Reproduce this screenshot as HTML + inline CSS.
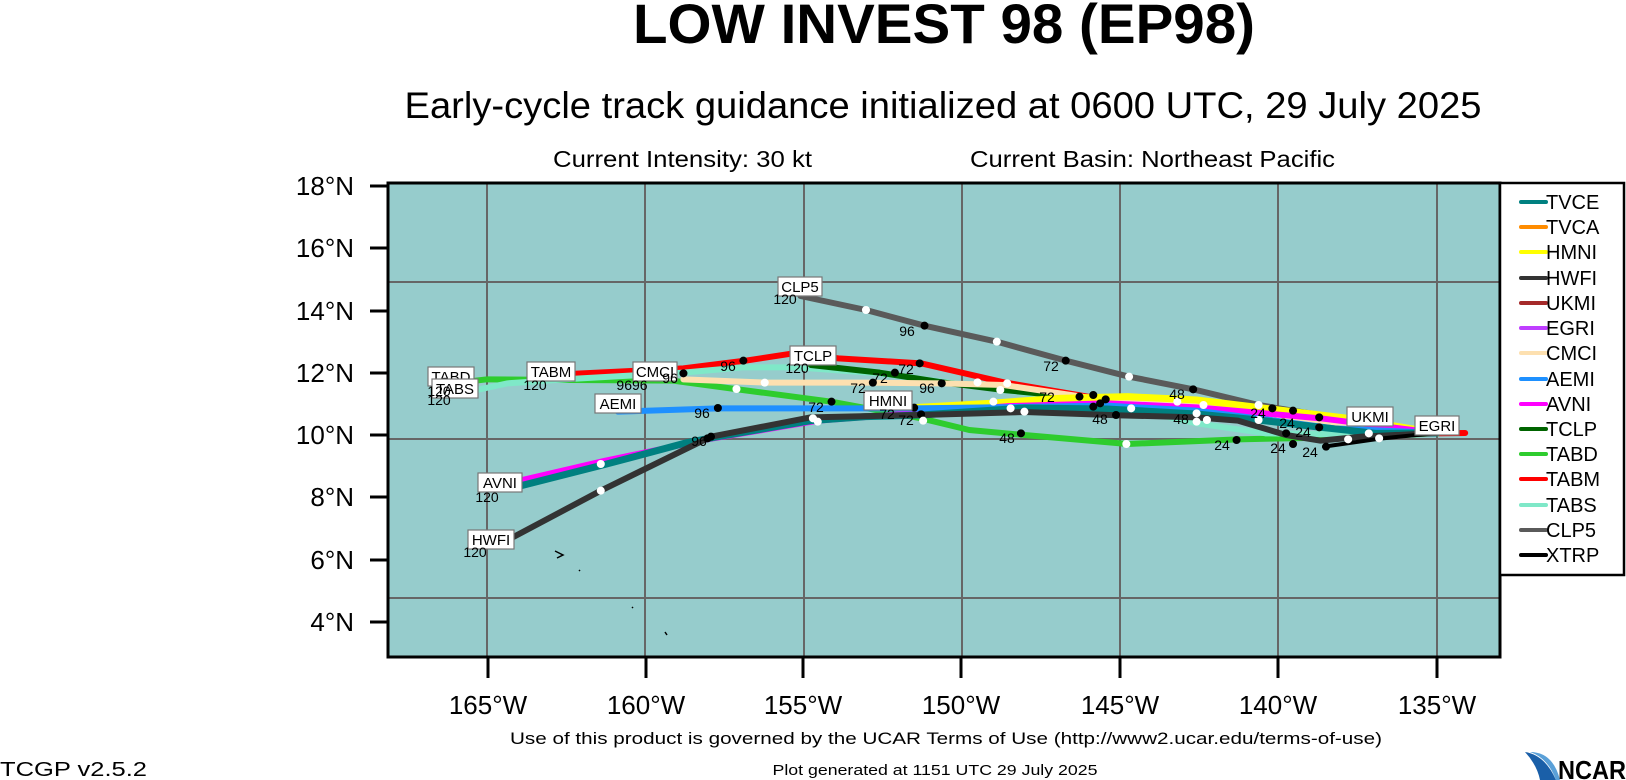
<!DOCTYPE html>
<html><head><meta charset="utf-8"><style>
html,body{margin:0;padding:0;background:#fff;}
svg{display:block;font-family:"Liberation Sans",sans-serif;}
.trk{fill:none;stroke-linejoin:round;stroke-linecap:round;}
.lb rect{fill:#fff;stroke:#777;stroke-width:1.2;}
.lb text{font-size:15px;text-anchor:middle;}
.n{font-size:14px;text-anchor:middle;}
</style></head><body>
<svg width="1626" height="780" viewBox="0 0 1626 780" xmlns="http://www.w3.org/2000/svg">
<defs><clipPath id="cp"><rect x="388" y="183" width="1112" height="474"/></clipPath></defs>
<text x="944" y="43" font-size="56" font-weight="bold" text-anchor="middle" textLength="622" lengthAdjust="spacingAndGlyphs">LOW INVEST 98 (EP98)</text>
<text x="943" y="118" font-size="37" text-anchor="middle" textLength="1077" lengthAdjust="spacingAndGlyphs">Early-cycle track guidance initialized at 0600 UTC, 29 July 2025</text>
<text x="553" y="167" font-size="23" textLength="259" lengthAdjust="spacingAndGlyphs">Current Intensity: 30 kt</text>
<text x="970" y="167" font-size="23" textLength="365" lengthAdjust="spacingAndGlyphs">Current Basin: Northeast Pacific</text>
<rect x="388" y="183" width="1112" height="474" fill="#96cccc"/>
<g stroke="#666" stroke-width="2">
<line x1="487" y1="183" x2="487" y2="657"/><line x1="645" y1="183" x2="645" y2="657"/><line x1="804" y1="183" x2="804" y2="657"/><line x1="962" y1="183" x2="962" y2="657"/><line x1="1120" y1="183" x2="1120" y2="657"/><line x1="1278" y1="183" x2="1278" y2="657"/><line x1="1437" y1="183" x2="1437" y2="657"/>
<line x1="388" y1="282" x2="1500" y2="282"/><line x1="388" y1="439" x2="1500" y2="439"/><line x1="388" y1="598" x2="1500" y2="598"/>
</g>
<g stroke="#000" stroke-width="1.5" fill="none"><path d="M555 551 l8 4 l-6 3"/><path d="M579 570 l1 1"/><path d="M632 607 l1 1"/><path d="M665 632 l2 3"/></g>
<g clip-path="url(#cp)">
<g transform="translate(370 170) scale(0.6888 0.33333)">
<path vector-effect="non-scaling-stroke" class="trk" stroke="#5a5a5a" stroke-width="6" d="M625 378 L720 420 L805 467 L910 515 L1010 572 L1102 620 L1195 658 L1290 705 L1340 722 L1549 789"/>
<path vector-effect="non-scaling-stroke" class="trk" stroke="#2ecc2e" stroke-width="6" d="M1549 789 L1460 800 L1330 805 L1260 808 L1100 822 L950 795 L870 780 L800 745 L670 695 L530 657 L440 632 L290 630 L170 628 L120 640"/>
<path vector-effect="non-scaling-stroke" class="trk" stroke="#ff0000" stroke-width="6" d="M1590 789 L1540 790 L1400 765 L1200 720 L1070 690 L1000 665 L920 637 L800 580 L680 565 L615 550 L545 572 L455 595 L290 612"/>
<path vector-effect="non-scaling-stroke" class="trk" stroke="#7fe8c8" stroke-width="6" d="M1549 789 L1460 795 L1300 790 L1200 760 L1070 700 L920 660 L830 635 L740 610 L620 592 L540 592 L455 608 L290 627 L200 640 L150 662"/>
<path vector-effect="non-scaling-stroke" class="trk" stroke="#006400" stroke-width="6" d="M1549 789 L1400 770 L1200 712 L1050 686 L920 660 L830 637 L740 608 L640 585"/>
<path vector-effect="non-scaling-stroke" class="trk" stroke="#fde0b0" stroke-width="6" d="M1549 789 L1400 760 L1200 700 L1050 685 L920 645 L830 640 L720 638 L575 638 L455 628"/>
<path vector-effect="non-scaling-stroke" class="trk" stroke="#ffff00" stroke-width="7" d="M1549 789 L1420 745 L1300 715 L1200 690 L1100 680 L1000 685 L900 700 L790 713"/>
<path vector-effect="non-scaling-stroke" class="trk" stroke="#ff00ff" stroke-width="6" d="M1549 789 L1380 745 L1200 712 L1070 700 L930 708 L800 728 L650 752 L490 808 L340 873 L200 940"/>
<path vector-effect="non-scaling-stroke" class="trk" stroke="#1e90ff" stroke-width="6" d="M1549 789 L1400 775 L1200 722 L1070 707 L900 712 L790 715 L670 715 L505 715 L360 725"/>
<path vector-effect="non-scaling-stroke" class="trk" stroke="#008080" stroke-width="7" d="M1549 789 L1460 790 L1380 772 L1290 750 L1200 732 L1070 717 L950 714 L800 735 L720 740 L640 752 L500 802 L460 818 L340 884 L210 952"/>
<path vector-effect="non-scaling-stroke" class="trk" stroke="#333" stroke-width="6" d="M1549 789 L1440 800 L1380 812 L1330 795 L1260 752 L1200 742 L1090 736 L950 726 L800 735 L640 742 L495 800 L335 962 L200 1110"/>
<path vector-effect="non-scaling-stroke" class="trk" stroke="#000" stroke-width="4" d="M1549 789 L1470 805 L1385 830"/>
<g stroke="#000" stroke-width="8" stroke-linecap="round">
<path vector-effect="non-scaling-stroke" d="M805 467h.1M1010 572h.1M1195 658h.1M1340 722h.1M542 572h.1M798 580h.1M455 610h.1M762 608h.1M730 638h.1M830 640h.1M670 695h.1M505 714h.1M790 713h.1M800 733h.1M945 790h.1M1083 735h.1M1050 675h.1M1068 688h.1M1030 680h.1M1258 810h.1M1340 822h.1M1388 830h.1M1310 715h.1M1340 722h.1M1378 742h.1M1378 772h.1M1330 790h.1M495 800h.1M490 805h.1M1050 710h.1M1060 700h.1"/>
</g>
<g stroke="#fff" stroke-width="8" stroke-linecap="round">
<path vector-effect="non-scaling-stroke" d="M720 420h.1M910 515h.1M1102 620h.1M1290 705h.1M573 638h.1M532 657h.1M882 637h.1M915 660h.1M925 640h.1M905 695h.1M930 715h.1M950 725h.1M643 745h.1M650 755h.1M335 882h.1M335 962h.1M1098 822h.1M1105 715h.1M1200 730h.1M1200 755h.1M1215 750h.1M1290 750h.1M1420 808h.1M1450 790h.1M1465 805h.1M1172 695h.1M1210 705h.1M803 752h.1"/>
</g>
</g>
</g>
<g class="lb">
<rect x="778" y="277" width="44" height="19"/><text x="800" y="292">CLP5</text>
<rect x="790" y="346" width="46" height="19"/><text x="813" y="361">TCLP</text>
<rect x="527" y="362" width="48" height="19"/><text x="551" y="377">TABM</text>
<rect x="633" y="362" width="44" height="19"/><text x="655" y="377">CMCI</text>
<rect x="428" y="367" width="46" height="19"/><text x="451" y="382">TABD</text>
<rect x="432" y="379" width="46" height="19"/><text x="455" y="394">TABS</text>
<rect x="595" y="394" width="46" height="19"/><text x="618" y="409">AEMI</text>
<rect x="864" y="391" width="48" height="19"/><text x="888" y="406">HMNI</text>
<rect x="478" y="473" width="44" height="19"/><text x="500" y="488">AVNI</text>
<rect x="468" y="530" width="46" height="19"/><text x="491" y="545">HWFI</text>
<rect x="1347" y="407" width="46" height="19"/><text x="1370" y="422">UKMI</text>
<rect x="1415" y="416" width="44" height="19"/><text x="1437" y="431">EGRI</text>
</g>
<g class="n">
<text x="785" y="304">120</text><text x="797" y="373">120</text><text x="535" y="390">120</text><text x="439" y="396">120</text><text x="439" y="405">120</text><text x="487" y="502">120</text><text x="475" y="557">120</text>
<text x="632" y="390">9696</text><text x="670" y="383">96</text><text x="907" y="336">96</text><text x="1051" y="371">72</text><text x="1177" y="399">48</text><text x="728" y="371">96</text><text x="906" y="374">72</text><text x="880" y="383">72</text><text x="858" y="393">72</text><text x="927" y="393">96</text><text x="702" y="418">96</text><text x="816" y="412">72</text><text x="887" y="419">72</text><text x="906" y="425">72</text><text x="1007" y="443">48</text><text x="1100" y="424">48</text><text x="1181" y="424">48</text><text x="1222" y="450">24</text><text x="1278" y="453">24</text><text x="1310" y="457">24</text><text x="1258" y="418">24</text><text x="1303" y="437">24</text><text x="1287" y="428">24</text><text x="699" y="446">96</text><text x="1047" y="402">72</text>
</g>
<rect x="388" y="183" width="1112" height="474" fill="none" stroke="#000" stroke-width="3"/>
<g stroke="#000" stroke-width="3">
<line x1="370" y1="186" x2="388" y2="186"/><line x1="370" y1="248" x2="388" y2="248"/><line x1="370" y1="311" x2="388" y2="311"/><line x1="370" y1="373" x2="388" y2="373"/><line x1="370" y1="435" x2="388" y2="435"/><line x1="370" y1="497" x2="388" y2="497"/><line x1="370" y1="560" x2="388" y2="560"/><line x1="370" y1="622" x2="388" y2="622"/>
<line x1="488" y1="657" x2="488" y2="678"/><line x1="646" y1="657" x2="646" y2="678"/><line x1="803" y1="657" x2="803" y2="678"/><line x1="961" y1="657" x2="961" y2="678"/><line x1="1120" y1="657" x2="1120" y2="678"/><line x1="1278" y1="657" x2="1278" y2="678"/><line x1="1437" y1="657" x2="1437" y2="678"/>
</g>
<g font-size="26" text-anchor="end">
<text x="354" y="195">18°N</text><text x="354" y="257">16°N</text><text x="354" y="320">14°N</text><text x="354" y="382">12°N</text><text x="354" y="444">10°N</text><text x="354" y="506">8°N</text><text x="354" y="569">6°N</text><text x="354" y="631">4°N</text>
</g>
<g font-size="26" text-anchor="middle">
<text x="488" y="714">165°W</text><text x="646" y="714">160°W</text><text x="803" y="714">155°W</text><text x="961" y="714">150°W</text><text x="1120" y="714">145°W</text><text x="1278" y="714">140°W</text><text x="1437" y="714">135°W</text>
</g>
<rect x="1500" y="183" width="124" height="392" fill="#fff" stroke="#000" stroke-width="2.5"/>
<g stroke-width="4" stroke-linecap="round">
<line x1="1521" x2="1546" y1="202" y2="202" stroke="#008080"/>
<line x1="1521" x2="1546" y1="227" y2="227" stroke="#ff8c00"/>
<line x1="1521" x2="1546" y1="252" y2="252" stroke="#ffff00"/>
<line x1="1521" x2="1546" y1="278" y2="278" stroke="#333"/>
<line x1="1521" x2="1546" y1="303" y2="303" stroke="#a52a2a"/>
<line x1="1521" x2="1546" y1="328" y2="328" stroke="#bf3eff"/>
<line x1="1521" x2="1546" y1="353" y2="353" stroke="#fde0b0"/>
<line x1="1521" x2="1546" y1="379" y2="379" stroke="#1e90ff"/>
<line x1="1521" x2="1546" y1="404" y2="404" stroke="#ff00ff"/>
<line x1="1521" x2="1546" y1="429" y2="429" stroke="#006400"/>
<line x1="1521" x2="1546" y1="454" y2="454" stroke="#2ecc2e"/>
<line x1="1521" x2="1546" y1="479" y2="479" stroke="#ff0000"/>
<line x1="1521" x2="1546" y1="505" y2="505" stroke="#7fe8c8"/>
<line x1="1521" x2="1546" y1="530" y2="530" stroke="#5a5a5a"/>
<line x1="1521" x2="1546" y1="555" y2="555" stroke="#000"/>
</g>
<g font-size="20">
<text x="1546" y="209">TVCE</text><text x="1546" y="234">TVCA</text><text x="1546" y="259">HMNI</text><text x="1546" y="285">HWFI</text><text x="1546" y="310">UKMI</text><text x="1546" y="335">EGRI</text><text x="1546" y="360">CMCI</text><text x="1546" y="386">AEMI</text><text x="1546" y="411">AVNI</text><text x="1546" y="436">TCLP</text><text x="1546" y="461">TABD</text><text x="1546" y="486">TABM</text><text x="1546" y="512">TABS</text><text x="1546" y="537">CLP5</text><text x="1546" y="562">XTRP</text>
</g>
<text x="946" y="744" font-size="17" text-anchor="middle" textLength="872" lengthAdjust="spacingAndGlyphs">Use of this product is governed by the UCAR Terms of Use (http://www2.ucar.edu/terms-of-use)</text>
<text x="935" y="775" font-size="15" text-anchor="middle" textLength="325" lengthAdjust="spacingAndGlyphs">Plot generated at 1151 UTC   29 July 2025</text>
<text x="0" y="776" font-size="20" textLength="147" lengthAdjust="spacingAndGlyphs">TCGP v2.5.2</text>
<path d="M1525 752 Q1545 755 1556 780 L1540 780 Q1537 765 1525 752 Z" fill="#1a5fa8"/>
<path d="M1530 752 Q1553 752 1560 780 L1556 780 Q1548 758 1530 752 Z" fill="#5aa0d8"/>
<text x="1558" y="779" font-size="26" font-weight="bold" textLength="68" lengthAdjust="spacingAndGlyphs">NCAR</text>
</svg>
</body></html>
